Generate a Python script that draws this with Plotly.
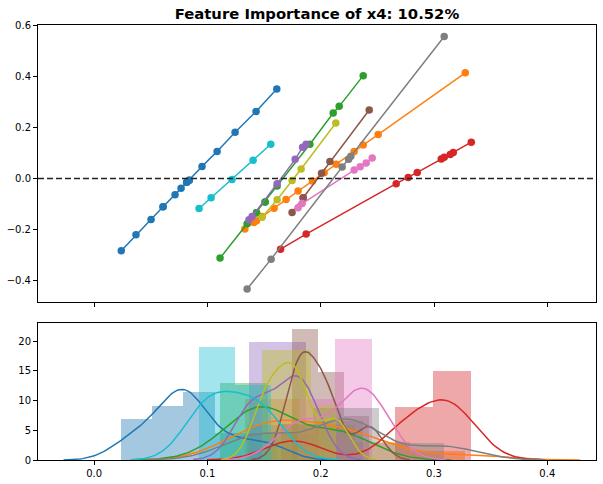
import numpy as np
import plotly.graph_objects as go
from plotly.subplots import make_subplots

# x positions / y values (one list pair per colour)
blue_x = [0.0239, 0.0369, 0.0502, 0.0608, 0.0608, 0.0714, 0.0767, 0.0817, 0.0817, 0.0839, 0.0839, 0.0952, 0.1085, 0.1244, 0.1429, 0.1612]
blue_y = [-0.282, -0.220, -0.160, -0.110, -0.110, -0.063, -0.038, -0.015, -0.015, -0.007, -0.007, 0.047, 0.106, 0.181, 0.262, 0.350]
orange_x = [0.133, 0.141, 0.1433, 0.1482, 0.1588, 0.1694, 0.18, 0.1926, 0.203, 0.2136, 0.2295, 0.2375, 0.2507, 0.3276]
orange_y = [-0.197, -0.172, -0.165, -0.148, -0.116, -0.082, -0.049, -0.010, 0.023, 0.056, 0.106, 0.131, 0.172, 0.413]
green_x = [0.1111, 0.135, 0.1433, 0.1433, 0.1509, 0.1509, 0.1615, 0.1904, 0.211, 0.2163, 0.2375]
green_y = [-0.311, -0.177, -0.134, -0.134, -0.092, -0.092, -0.029, 0.134, 0.256, 0.282, 0.402]
red_x = [0.1645, 0.1871, 0.2666, 0.2772, 0.2852, 0.3064, 0.309, 0.3143, 0.317, 0.3329]
red_y = [-0.276, -0.217, -0.020, 0.004, 0.024, 0.076, 0.083, 0.094, 0.102, 0.142]
purple_x = [0.1367, 0.1394, 0.1615, 0.1774, 0.184, 0.1871]
purple_y = [-0.161, -0.148, -0.020, 0.075, 0.122, 0.134]
brown_x = [0.1747, 0.1845, 0.1845, 0.2007, 0.2081, 0.2428]
brown_y = [-0.133, -0.075, -0.075, 0.021, 0.067, 0.268]
pink_x = [0.18, 0.1836, 0.2295, 0.2348, 0.2401, 0.2454]
pink_y = [-0.114, -0.098, 0.033, 0.046, 0.061, 0.080]
gray_x = [0.135, 0.1562, 0.2189, 0.2246, 0.2266, 0.309]
gray_y = [-0.432, -0.315, 0.045, 0.075, 0.087, 0.555]
olive_x = [0.1482, 0.1615, 0.1747, 0.1827, 0.2133]
olive_y = [-0.151, -0.083, -0.008, 0.037, 0.217]
cyan_x = [0.0926, 0.1032, 0.1217, 0.1403, 0.1559]
cyan_y = [-0.117, -0.075, -0.004, 0.071, 0.134]

series = [
    (blue_x, blue_y, "#1f77b4"),
    (orange_x, orange_y, "#ff7f0e"),
    (green_x, green_y, "#2ca02c"),
    (red_x, red_y, "#d62728"),
    (purple_x, purple_y, "#9467bd"),
    (brown_x, brown_y, "#8c564b"),
    (pink_x, pink_y, "#e377c2"),
    (gray_x, gray_y, "#7f7f7f"),
    (olive_x, olive_y, "#bcbd22"),
    (cyan_x, cyan_y, "#17becf"),
]
title = "Feature Importance of x4: 10.52%"


def fd_bins(x):
    q75, q25 = np.percentile(x, [75, 25])
    h = 2 * (q75 - q25) / len(x) ** (1 / 3)
    return max(int(np.ceil((x.max() - x.min()) / h)), 1)


def kde(x):
    # gaussian kde, scott bandwidth (statsmodels style), cut=3
    n = len(x)
    q75, q25 = np.percentile(x, [75, 25])
    a = min(np.std(x, ddof=1), (q75 - q25) / 1.349)
    bw = 1.059 * a * n ** (-0.2)
    grid = np.linspace(x.min() - 3 * bw, x.max() + 3 * bw, 128)
    dens = np.exp(-0.5 * ((grid[:, None] - x[None, :]) / bw) ** 2).sum(1)
    return grid, dens / (n * bw * np.sqrt(2 * np.pi))


fig = make_subplots(rows=2, cols=1, row_heights=[0.67, 0.33], vertical_spacing=0.0483)

for xs, ys, c in series:
    fig.add_trace(go.Scatter(x=xs, y=ys, mode="lines+markers", line=dict(color=c, width=1.5),
                             marker=dict(color=c, size=7.5)), row=1, col=1)

for xs, ys, c in series:
    x = np.array(xs)
    counts, edges = np.histogram(x, bins=fd_bins(x), density=True)
    fig.add_trace(go.Bar(x=(edges[:-1] + edges[1:]) / 2, y=counts, width=np.diff(edges),
                         marker=dict(color=c, line=dict(width=0)), opacity=0.4), row=2, col=1)
    g, d = kde(x)
    fig.add_trace(go.Scatter(x=g, y=d, mode="lines", line=dict(color=c, width=1.5)), row=2, col=1)

fig.add_hline(y=0, line=dict(color="#222222", width=1.5, dash="6px,3px"), row=1, col=1)

axis_style = dict(showline=True, mirror=True, linecolor="black", linewidth=1, ticks="outside",
                  ticklen=4, tickcolor="black", showgrid=False, zeroline=False, automargin=False,
                  tickfont=dict(family="DejaVu Sans", size=10, color="black"))
fig.update_xaxes(range=[-0.0496, 0.443], dtick=0.1, tickformat=".1f", **axis_style)
fig.update_xaxes(showticklabels=False, row=1, col=1)
fig.update_yaxes(**axis_style)
fig.update_yaxes(range=[-0.484, 0.6], dtick=0.2, tickformat=".1f", row=1, col=1)
fig.update_yaxes(range=[0, 23], dtick=5, row=2, col=1)

fig.update_layout(
    width=603, height=484,
    margin=dict(l=38, r=7, t=25, b=24),
    barmode="overlay", bargap=0,
    showlegend=False, hovermode=False,
    plot_bgcolor="white", paper_bgcolor="white",
    title=dict(text="<b>" + title + "</b>", xref="paper", x=0.5, xanchor="center",
               y=1 - 14 / 484, yanchor="middle",
               font=dict(family="DejaVu Sans", size=14.8, color="black")),
)

# page body has a default 8px margin; drop it so the figure sits at the window origin
fig.write_html("out.html", config={"displayModeBar": False},
               post_script="document.body.style.margin = '0';")
